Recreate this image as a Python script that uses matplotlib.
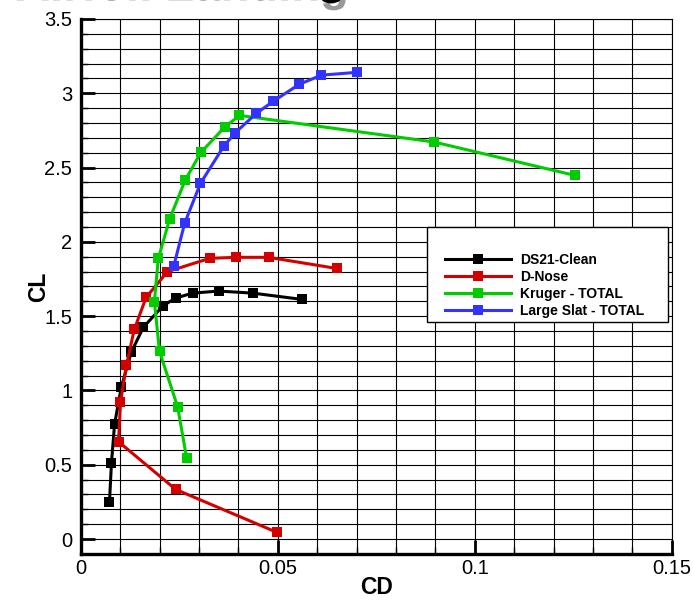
import numpy as np
import matplotlib.pyplot as plt
import matplotlib.patheffects as pe
from matplotlib.patches import Rectangle
from matplotlib.ticker import FormatStrFormatter

plt.rcParams['font.family'] = ['Liberation Sans', 'DejaVu Sans']

# drag polar data, CD vs CL
clean_cd = [0.0073, 0.0078, 0.0086, 0.0103, 0.0128, 0.0159, 0.0209, 0.0241, 0.0284, 0.0350, 0.0437, 0.0561]
clean_cl = [0.247, 0.509, 0.774, 1.021, 1.256, 1.425, 1.570, 1.622, 1.655, 1.669, 1.655, 1.613]

dnose_cd = [0.0498, 0.0241, 0.0096, 0.0101, 0.0116, 0.0136, 0.0166, 0.0220, 0.0327, 0.0393, 0.0477, 0.0650]
dnose_cl = [0.045, 0.334, 0.655, 0.920, 1.169, 1.411, 1.626, 1.799, 1.889, 1.896, 1.896, 1.821]

kruger_cd = [0.0269, 0.0246, 0.0200, 0.0187, 0.0197, 0.0226, 0.0265, 0.0305, 0.0365, 0.0403, 0.0897, 0.1255]
kruger_cl = [0.543, 0.890, 1.263, 1.597, 1.889, 2.156, 2.414, 2.602, 2.771, 2.851, 2.672, 2.447]

slat_cd = [0.0236, 0.0264, 0.0304, 0.0363, 0.0392, 0.0446, 0.0488, 0.0555, 0.0611, 0.0701]
slat_cl = [1.835, 2.127, 2.394, 2.643, 2.734, 2.865, 2.945, 3.061, 3.122, 3.141]

series = [
    ("DS21-Clean", clean_cd, clean_cl, "#000000"),
    ("D-Nose", dnose_cd, dnose_cl, "#d40000"),
    ("Kruger - TOTAL", kruger_cd, kruger_cl, "#00cc00"),
    ("Large Slat - TOTAL", slat_cd, slat_cl, "#3333ff"),
]

fig = plt.figure(figsize=(6.93, 6.0), dpi=100)
ax = fig.add_axes([80.7 / 693, 46.1 / 600, 591 / 693, 534.9 / 600])

for name, cd, cl, col in series:
    ax.plot(cd, cl, color=col, lw=2.2, marker='s', ms=6.5, mew=0, label=name, zorder=3)

ax.set_xlim(0, 0.15)
ax.set_ylim(-0.1, 3.5)
ax.set_xticks([0, 0.05, 0.1, 0.15])
ax.set_yticks(np.arange(0, 3.51, 0.5))
ax.set_xticks(np.arange(0, 0.1501, 0.01), minor=True)
ax.set_yticks(np.arange(-0.1, 3.501, 0.1), minor=True)
ax.xaxis.set_major_formatter(FormatStrFormatter('%g'))
ax.yaxis.set_major_formatter(FormatStrFormatter('%g'))
ax.grid(which='both', color='black', lw=0.8, zorder=0)
ax.set_axisbelow(True)

ax.tick_params(which='major', direction='in', length=10, width=2, labelsize=14.5, pad=6)
ax.tick_params(axis='x', which='major', pad=4)
ax.tick_params(which='minor', direction='in', length=5, width=1)
for s in ['left', 'bottom']:
    ax.spines[s].set_linewidth(2.4)
for s in ['top', 'right']:
    ax.spines[s].set_linewidth(0.8)

ax.set_xlabel('CD', fontsize=16.5, fontweight='bold', labelpad=-2)
ax.set_ylabel('CL', fontsize=16.5, fontweight='bold', labelpad=-4)

# legend box with entries sitting in its lower part
ax.add_patch(Rectangle((0.586, 0.433), 0.407, 0.178, transform=ax.transAxes,
                       facecolor='white', edgecolor='black', lw=1.0, zorder=5))
leg = ax.legend(loc='upper left', bbox_to_anchor=(0.617, 0.562), frameon=False,
                prop={'weight': 'bold', 'size': 10}, handlelength=4.7,
                handletextpad=0.7, labelspacing=0.2, borderpad=0, borderaxespad=0)
leg.set_zorder(6)

fig.text(13 / 693, 1.011, 'Airfoil Landing', fontsize=34, fontweight='bold',
         ha='left', va='baseline',
         path_effects=[pe.withSimplePatchShadow(offset=(2, -5), shadow_rgbFace='0.6', alpha=1)])

fig.savefig('out.png', dpi=100)
